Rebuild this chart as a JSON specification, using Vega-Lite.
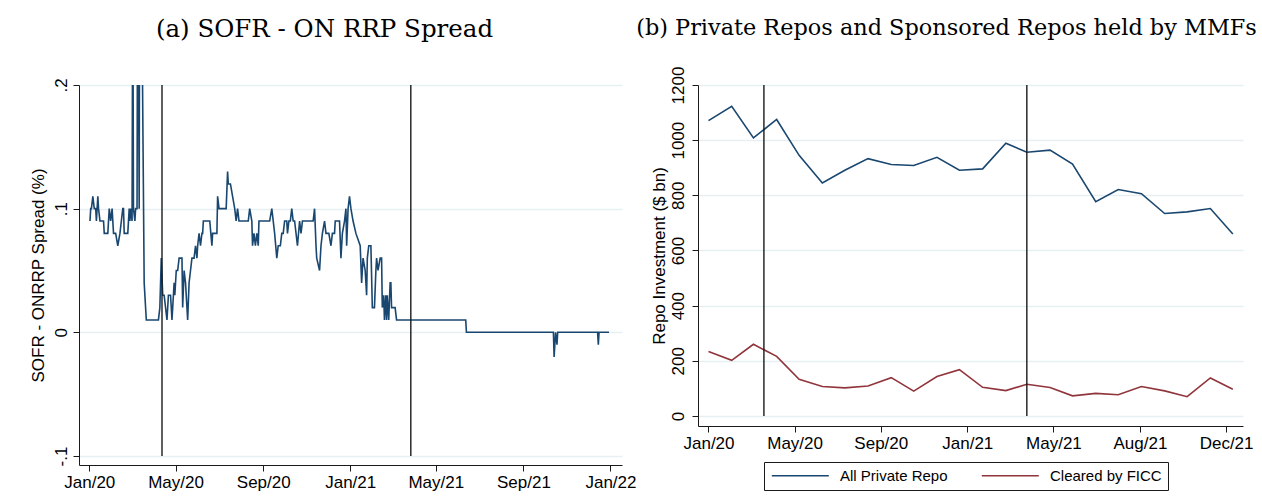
{
"$schema":"https://vega.github.io/schema/vega-lite/v6.json",
"background":"white",
"padding":{"left":29,"top":16,"right":0,"bottom":0},
"spacing":0,
"align":"none",
"config":{
 "view":{"stroke":null},
 "axis":{"domainColor":"#1a1a1a","domainWidth":1,"tickColor":"#1a1a1a","tickWidth":1,"tickSize":6,"labelFont":"Liberation Sans","labelFontSize":17,"labelColor":"#000","titleFont":"Liberation Sans","titleFontSize":17,"titleFontWeight":"normal","titleColor":"#000","gridColor":"#e6eff1","gridWidth":1.5},
 "title":{"font":"DejaVu Serif","fontWeight":"normal","color":"#000","anchor":"middle","frame":"group"}
},
"resolve":{"scale":{"color":"independent"},"legend":{"color":"independent"}},
"hconcat":[
{
 "width":543,"height":380,
 "title":{"text":"(a) SOFR - ON RRP Spread","offset":35,"dx":-26,"fontSize":24.5},
 "layer":[
  {
   "data":{"values":[
{"date":"2020-01-02","spread":0.09},{"date":"2020-01-03","spread":0.10},{"date":"2020-01-04","spread":0.10},{"date":"2020-01-06","spread":0.11},{"date":"2020-01-08","spread":0.10},{"date":"2020-01-10","spread":0.10},{"date":"2020-01-11","spread":0.09},{"date":"2020-01-13","spread":0.11},{"date":"2020-01-14","spread":0.10},{"date":"2020-01-16","spread":0.09},{"date":"2020-01-21","spread":0.09},{"date":"2020-01-22","spread":0.08},{"date":"2020-01-27","spread":0.08},{"date":"2020-01-29","spread":0.10},{"date":"2020-01-31","spread":0.09},{"date":"2020-02-02","spread":0.10},{"date":"2020-02-04","spread":0.08},{"date":"2020-02-07","spread":0.08},{"date":"2020-02-10","spread":0.07},{"date":"2020-02-13","spread":0.08},{"date":"2020-02-15","spread":0.09},{"date":"2020-02-17","spread":0.10},{"date":"2020-02-18","spread":0.10},{"date":"2020-02-19","spread":0.08},{"date":"2020-02-24","spread":0.08},{"date":"2020-02-26","spread":0.10},{"date":"2020-02-27","spread":0.09},{"date":"2020-02-28","spread":0.10},{"date":"2020-03-01","spread":0.09},{"date":"2020-03-02","spread":0.30},{"date":"2020-03-03","spread":0.10},{"date":"2020-03-05","spread":0.09},{"date":"2020-03-06","spread":0.10},{"date":"2020-03-08","spread":0.10},{"date":"2020-03-09","spread":0.35},{"date":"2020-03-11","spread":0.10},{"date":"2020-03-12","spread":0.40},{"date":"2020-03-14","spread":0.30},{"date":"2020-03-15","spread":0.25},{"date":"2020-03-18","spread":0.04},{"date":"2020-03-21","spread":0.01},{"date":"2020-04-07","spread":0.01},{"date":"2020-04-09","spread":0.02},{"date":"2020-04-11","spread":0.06},{"date":"2020-04-13","spread":0.03},{"date":"2020-04-15","spread":0.03},{"date":"2020-04-17","spread":0.02},{"date":"2020-04-19","spread":0.01},{"date":"2020-04-21","spread":0.03},{"date":"2020-04-24","spread":0.03},{"date":"2020-04-26","spread":0.01},{"date":"2020-04-28","spread":0.03},{"date":"2020-04-29","spread":0.04},{"date":"2020-04-30","spread":0.03},{"date":"2020-05-02","spread":0.05},{"date":"2020-05-04","spread":0.05},{"date":"2020-05-06","spread":0.06},{"date":"2020-05-10","spread":0.06},{"date":"2020-05-11","spread":0.02},{"date":"2020-05-13","spread":0.05},{"date":"2020-05-15","spread":0.04},{"date":"2020-05-17","spread":0.02},{"date":"2020-05-18","spread":0.01},{"date":"2020-05-20","spread":0.04},{"date":"2020-05-22","spread":0.05},{"date":"2020-05-24","spread":0.06},{"date":"2020-05-27","spread":0.06},{"date":"2020-05-29","spread":0.07},{"date":"2020-05-31","spread":0.06},{"date":"2020-06-01","spread":0.07},{"date":"2020-06-03","spread":0.08},{"date":"2020-06-05","spread":0.07},{"date":"2020-06-07","spread":0.08},{"date":"2020-06-08","spread":0.08},{"date":"2020-06-09","spread":0.09},{"date":"2020-06-18","spread":0.09},{"date":"2020-06-21","spread":0.07},{"date":"2020-06-22","spread":0.08},{"date":"2020-06-28","spread":0.08},{"date":"2020-06-29","spread":0.11},{"date":"2020-07-01","spread":0.10},{"date":"2020-07-09","spread":0.10},{"date":"2020-07-11","spread":0.10},{"date":"2020-07-13","spread":0.13},{"date":"2020-07-14","spread":0.12},{"date":"2020-07-17","spread":0.12},{"date":"2020-07-20","spread":0.11},{"date":"2020-07-23","spread":0.10},{"date":"2020-07-25","spread":0.09},{"date":"2020-07-27","spread":0.10},{"date":"2020-07-29","spread":0.09},{"date":"2020-08-11","spread":0.09},{"date":"2020-08-13","spread":0.10},{"date":"2020-08-16","spread":0.09},{"date":"2020-08-17","spread":0.07},{"date":"2020-08-19","spread":0.08},{"date":"2020-08-21","spread":0.07},{"date":"2020-08-23","spread":0.08},{"date":"2020-08-25","spread":0.07},{"date":"2020-08-26","spread":0.09},{"date":"2020-09-10","spread":0.09},{"date":"2020-09-13","spread":0.10},{"date":"2020-09-15","spread":0.09},{"date":"2020-09-17","spread":0.08},{"date":"2020-09-20","spread":0.06},{"date":"2020-09-22","spread":0.07},{"date":"2020-09-25","spread":0.07},{"date":"2020-09-27","spread":0.08},{"date":"2020-09-29","spread":0.08},{"date":"2020-10-01","spread":0.09},{"date":"2020-10-04","spread":0.09},{"date":"2020-10-05","spread":0.08},{"date":"2020-10-07","spread":0.09},{"date":"2020-10-09","spread":0.09},{"date":"2020-10-11","spread":0.10},{"date":"2020-10-13","spread":0.09},{"date":"2020-10-15","spread":0.09},{"date":"2020-10-19","spread":0.07},{"date":"2020-10-22","spread":0.09},{"date":"2020-10-24","spread":0.08},{"date":"2020-10-26","spread":0.09},{"date":"2020-11-10","spread":0.09},{"date":"2020-11-12","spread":0.10},{"date":"2020-11-14","spread":0.07},{"date":"2020-11-15","spread":0.06},{"date":"2020-11-19","spread":0.05},{"date":"2020-11-21","spread":0.07},{"date":"2020-11-23","spread":0.08},{"date":"2020-11-26","spread":0.09},{"date":"2020-11-28","spread":0.08},{"date":"2020-12-02","spread":0.08},{"date":"2020-12-05","spread":0.07},{"date":"2020-12-07","spread":0.08},{"date":"2020-12-10","spread":0.08},{"date":"2020-12-11","spread":0.09},{"date":"2020-12-17","spread":0.09},{"date":"2020-12-19","spread":0.06},{"date":"2020-12-21","spread":0.08},{"date":"2020-12-24","spread":0.09},{"date":"2020-12-26","spread":0.10},{"date":"2020-12-27","spread":0.07},{"date":"2020-12-29","spread":0.10},{"date":"2020-12-31","spread":0.11},{"date":"2021-01-02","spread":0.10},{"date":"2021-01-05","spread":0.09},{"date":"2021-01-09","spread":0.08},{"date":"2021-01-15","spread":0.07},{"date":"2021-01-17","spread":0.04},{"date":"2021-01-19","spread":0.06},{"date":"2021-01-22","spread":0.05},{"date":"2021-01-24","spread":0.03},{"date":"2021-01-25","spread":0.06},{"date":"2021-01-27","spread":0.07},{"date":"2021-01-30","spread":0.07},{"date":"2021-02-01","spread":0.02},{"date":"2021-02-04","spread":0.02},{"date":"2021-02-06","spread":0.05},{"date":"2021-02-07","spread":0.06},{"date":"2021-02-09","spread":0.05},{"date":"2021-02-12","spread":0.06},{"date":"2021-02-14","spread":0.06},{"date":"2021-02-15","spread":0.02},{"date":"2021-02-17","spread":0.03},{"date":"2021-02-18","spread":0.01},{"date":"2021-02-20","spread":0.03},{"date":"2021-02-21","spread":0.01},{"date":"2021-02-22","spread":0.03},{"date":"2021-02-24","spread":0.01},{"date":"2021-02-26","spread":0.04},{"date":"2021-02-27","spread":0.04},{"date":"2021-02-28","spread":0.02},{"date":"2021-03-05","spread":0.02},{"date":"2021-03-07","spread":0.01},{"date":"2021-06-12","spread":0.01},{"date":"2021-06-13","spread":0},{"date":"2021-10-13","spread":0},{"date":"2021-10-14","spread":-0.02},{"date":"2021-10-16","spread":0},{"date":"2021-10-18","spread":-0.01},{"date":"2021-10-19","spread":0},{"date":"2021-12-14","spread":0},{"date":"2021-12-15","spread":-0.01},{"date":"2021-12-16","spread":0},{"date":"2021-12-30","spread":0}
   ]},
   "mark":{"type":"line","color":"#1a476f","strokeWidth":1.6,"clip":true},
   "encoding":{
    "x":{"field":"date","type":"temporal",
     "scale":{"type":"utc","domain":[{"year":2019,"month":12,"date":17,"hours":14,"utc":true},{"year":2022,"month":1,"date":17,"hours":5,"utc":true}]},
     "axis":{"title":null,"grid":false,"labelPadding":3,"labelFlush":false,"labelOverlap":false,
      "values":[{"year":2020,"month":1,"date":1,"utc":true},{"year":2020,"month":5,"date":1,"utc":true},{"year":2020,"month":9,"date":1,"utc":true},{"year":2021,"month":1,"date":1,"utc":true},{"year":2021,"month":5,"date":1,"utc":true},{"year":2021,"month":9,"date":1,"utc":true},{"year":2022,"month":1,"date":1,"utc":true}],
      "labelExpr":"utcFormat(datum.value, '%b/%y')"}},
    "y":{"field":"spread","type":"quantitative",
     "scale":{"domain":[-0.1073,0.2],"nice":false,"zero":false},
     "axis":{"title":"SOFR - ONRRP Spread (%)","grid":true,"values":[-0.1,0,0.1,0.2],
      "labelExpr":"datum.value > 0.15 ? '.2' : datum.value > 0.05 ? '.1' : datum.value > -0.05 ? '0' : '-.1'",
      "labelAngle":-90,"labelAlign":"center","labelBaseline":"bottom","labelPadding":3,"titlePadding":4.5}}
   }
  },
  {
   "data":{"values":[{"date":"2020-04-12","lo":-0.1,"hi":0.2},{"date":"2021-03-27","lo":-0.1,"hi":0.2}]},
   "mark":{"type":"rule","color":"#1a1a1a","strokeWidth":1.4},
   "encoding":{"x":{"field":"date","type":"temporal"},"y":{"field":"lo","type":"quantitative"},"y2":{"field":"hi"}}
  }
 ]
},
{
 "width":545,"height":341,
 "title":{"text":"(b) Private Repos and Sponsored Repos held by MMFs","offset":27,"dx":-24,"fontSize":22.4},
 "layer":[
  {
   "data":{"values":[
{"date":"2020-01-01","series":"All Private Repo","value":1071},{"date":"2020-02-01","series":"All Private Repo","value":1123},{"date":"2020-03-01","series":"All Private Repo","value":1008},{"date":"2020-04-01","series":"All Private Repo","value":1075},{"date":"2020-05-01","series":"All Private Repo","value":945},{"date":"2020-06-01","series":"All Private Repo","value":845},{"date":"2020-07-01","series":"All Private Repo","value":891},{"date":"2020-08-01","series":"All Private Repo","value":933},{"date":"2020-09-01","series":"All Private Repo","value":912},{"date":"2020-10-01","series":"All Private Repo","value":908},{"date":"2020-11-01","series":"All Private Repo","value":938},{"date":"2020-12-01","series":"All Private Repo","value":891},{"date":"2021-01-01","series":"All Private Repo","value":896},{"date":"2021-02-01","series":"All Private Repo","value":989},{"date":"2021-03-01","series":"All Private Repo","value":956},{"date":"2021-04-01","series":"All Private Repo","value":964},{"date":"2021-05-01","series":"All Private Repo","value":913},{"date":"2021-06-01","series":"All Private Repo","value":777},{"date":"2021-07-01","series":"All Private Repo","value":821},{"date":"2021-08-01","series":"All Private Repo","value":806},{"date":"2021-09-01","series":"All Private Repo","value":734},{"date":"2021-10-01","series":"All Private Repo","value":740},{"date":"2021-11-01","series":"All Private Repo","value":752},{"date":"2021-12-01","series":"All Private Repo","value":660},
{"date":"2020-01-01","series":"Cleared by FICC","value":234},{"date":"2020-02-01","series":"Cleared by FICC","value":202},{"date":"2020-03-01","series":"Cleared by FICC","value":260},{"date":"2020-04-01","series":"Cleared by FICC","value":216},{"date":"2020-05-01","series":"Cleared by FICC","value":133},{"date":"2020-06-01","series":"Cleared by FICC","value":107},{"date":"2020-07-01","series":"Cleared by FICC","value":102},{"date":"2020-08-01","series":"Cleared by FICC","value":109},{"date":"2020-09-01","series":"Cleared by FICC","value":139},{"date":"2020-10-01","series":"Cleared by FICC","value":90},{"date":"2020-11-01","series":"Cleared by FICC","value":143},{"date":"2020-12-01","series":"Cleared by FICC","value":168},{"date":"2021-01-01","series":"Cleared by FICC","value":104},{"date":"2021-02-01","series":"Cleared by FICC","value":92},{"date":"2021-03-01","series":"Cleared by FICC","value":115},{"date":"2021-04-01","series":"Cleared by FICC","value":103},{"date":"2021-05-01","series":"Cleared by FICC","value":73},{"date":"2021-06-01","series":"Cleared by FICC","value":82},{"date":"2021-07-01","series":"Cleared by FICC","value":77},{"date":"2021-08-01","series":"Cleared by FICC","value":107},{"date":"2021-09-01","series":"Cleared by FICC","value":91},{"date":"2021-10-01","series":"Cleared by FICC","value":70},{"date":"2021-11-01","series":"Cleared by FICC","value":138},{"date":"2021-12-01","series":"Cleared by FICC","value":97}
   ]},
   "mark":{"type":"line","strokeWidth":1.6,"clip":true},
   "encoding":{
    "x":{"field":"date","type":"temporal",
     "scale":{"type":"utc","domain":[{"year":2019,"month":12,"date":18,"utc":true},{"year":2021,"month":12,"date":14,"hours":14,"utc":true}]},
     "axis":{"title":null,"grid":false,"labelPadding":3,"labelFlush":false,"labelOverlap":false,
      "values":[{"year":2020,"month":1,"date":1,"utc":true},{"year":2020,"month":4,"date":25,"utc":true},{"year":2020,"month":8,"date":18,"utc":true},{"year":2020,"month":12,"date":11,"hours":12,"utc":true},{"year":2021,"month":4,"date":5,"hours":12,"utc":true},{"year":2021,"month":7,"date":30,"utc":true},{"year":2021,"month":11,"date":22,"utc":true}],
      "labelExpr":"['Jan/20','May/20','Sep/20','Jan/21','May/21','Aug/21','Dec/21'][round(datum.index*6)]"}},
    "y":{"field":"value","type":"quantitative",
     "scale":{"domain":[-36.3,1200],"nice":false,"zero":false},
     "axis":{"title":"Repo Investment ($ bn)","grid":true,"values":[0,200,400,600,800,1000,1200],"format":"d",
      "labelAngle":-90,"labelAlign":"center","labelBaseline":"bottom","labelPadding":4.5,"titlePadding":1}},
    "color":{"field":"series","type":"nominal",
     "scale":{"domain":["All Private Repo","Cleared by FICC"],"range":["#1a476f","#90353b"]},
     "legend":{"orient":"none","legendX":66,"legendY":377,"direction":"horizontal","title":null,
      "strokeColor":"#1a1a1a","fillColor":"white","padding":6,"labelFont":"Liberation Sans","labelFontSize":15,"labelColor":"#000",
      "symbolType":"M-1,0L9,0","symbolSize":130,"symbolStrokeWidth":1.5,"labelOffset":55,"columnPadding":30}}
   }
  },
  {
   "data":{"values":[{"date":"2020-03-15","lo":0,"hi":1200},{"date":"2021-03-01","lo":0,"hi":1200}]},
   "mark":{"type":"rule","color":"#1a1a1a","strokeWidth":1.4},
   "encoding":{"x":{"field":"date","type":"temporal"},"y":{"field":"lo","type":"quantitative"},"y2":{"field":"hi"}}
  }
 ]
}
]
}
